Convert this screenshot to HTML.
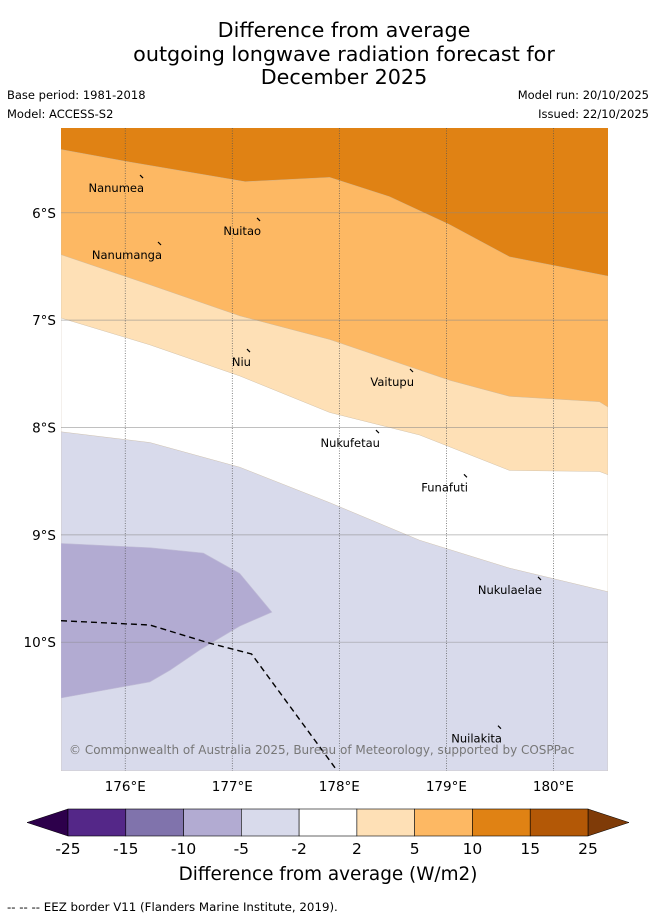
<!DOCTYPE html>
<html><head><meta charset="utf-8"><style>
body{margin:0;background:#fff;width:655px;height:919px;overflow:hidden;font-family:"DejaVu Sans","Liberation Sans",sans-serif}
svg text{font-family:"DejaVu Sans","Liberation Sans",sans-serif}
</style></head><body>
<svg id="chart" width="655" height="919" xmlns="http://www.w3.org/2000/svg">
<g font-size="20.7" text-anchor="middle" fill="#000">
<text x="344" y="37">Difference from average</text>
<text x="344" y="61">outgoing longwave radiation forecast for</text>
<text x="344" y="84">December 2025</text>
</g>
<g font-size="11.5" fill="#000">
<text x="7" y="99">Base period: 1981-2018</text>
<text x="7" y="118">Model: ACCESS-S2</text>
<text x="649" y="99" text-anchor="end">Model run: 20/10/2025</text>
<text x="649" y="118" text-anchor="end">Issued: 22/10/2025</text>
</g>
<defs><clipPath id="mapclip"><rect x="61" y="128" width="547" height="643"/></clipPath></defs>
<g id="map" clip-path="url(#mapclip)"></g>
<g id="overlay"></g>
<g id="cbar"></g>
<text x="328" y="880" font-size="18.4" text-anchor="middle">Difference from average (W/m2)</text>
<text x="7" y="911" font-size="11.8">--  --  -- EEZ border V11 (Flanders Marine Institute, 2019).</text>
</svg>
<script>
// Map extents (degrees)
const lonRange=[175.40,180.51], latRange=[5.21,11.20];
// Contour boundaries: lon / lat (deg S)
const b10Lon=[175.40,176.00,177.12,177.91,178.47,179.03,179.59,180.51];
const b10Lat=[5.41,5.52,5.71,5.67,5.85,6.11,6.41,6.59];
const b5Lon=[175.40,176.23,177.07,177.91,179.03,179.59,180.43,180.51];
const b5Lat=[6.39,6.67,6.96,7.18,7.56,7.71,7.76,7.81];
const b2Lon=[175.40,176.23,177.07,177.91,178.75,179.59,180.43,180.51];
const b2Lat=[6.98,7.23,7.52,7.86,8.07,8.40,8.41,8.44];
const bm2Lon=[175.40,176.23,177.07,177.91,178.75,179.59,180.51];
const bm2Lat=[8.04,8.14,8.37,8.70,9.05,9.31,9.53];
const blobLon=[175.40,176.23,176.73,177.07,177.37,177.07,176.70,176.42,176.23,175.40];
const blobLat=[9.08,9.12,9.17,9.36,9.72,9.85,10.07,10.26,10.37,10.52];
const eezLon=[175.40,176.23,176.79,177.18,177.96];
const eezLat=[9.80,9.84,10.01,10.11,11.17];
const lonTicks=[176,177,178,179,180];
const latTicks=[6,7,8,9,10];
const places=["Nanumea","Nuitao","Nanumanga","Niu","Vaitupu","Nukufetau","Funafuti","Nukulaelae","Nuilakita"];
const placeLon=[176.157,177.25,176.325,177.156,178.679,178.361,179.183,179.875,179.501];
const placeLat=[5.676,6.076,6.30,7.297,7.483,8.052,8.464,9.420,10.806];
const cbLevels=["-25","-15","-10","-5","-2","2","5","10","15","25"];
const cbColors=["#542788","#8073ac","#b2abd2","#d8daeb","#ffffff","#fee0b6","#fdb863","#e08214","#b35806"];

const NS="http://www.w3.org/2000/svg";
const X0=61,X1=608,Y0=128,Y1=771;
const x=lon=>X0+(lon-lonRange[0])/(lonRange[1]-lonRange[0])*(X1-X0);
const y=lat=>Y0+(lat-latRange[0])/(latRange[1]-latRange[0])*(Y1-Y0);
function mk(tag,attrs,parent){const e=document.createElementNS(NS,tag);for(const k in attrs)e.setAttribute(k,attrs[k]);parent.appendChild(e);return e;}
const map=document.getElementById('map'),ov=document.getElementById('overlay'),cb=document.getElementById('cbar');
function pts(lons,lats){return lons.map((l,i)=>x(l)+','+y(lats[i])).join(' ');}
function band(lons,lats){return pts(lons,lats)+' '+x(lonRange[1])+','+y(latRange[1])+' '+x(lonRange[0])+','+y(latRange[1]);}
let r=mk('rect',{x:X0,y:Y0,width:X1-X0,height:Y1-Y0,fill:'#e08214'},map);


const bands=[[b10Lon,b10Lat,'#fdb863','region-5-10'],[b5Lon,b5Lat,'#fee0b6','region-2-5'],[b2Lon,b2Lat,'#ffffff','region-neutral'],[bm2Lon,bm2Lat,'#d8daeb','region-minus5-minus2']];
bands.forEach(b=>{const p=mk('polygon',{points:band(b[0],b[1]),fill:b[2],stroke:'#c8b8a0','stroke-width':0.4},map);

});
let bl=mk('polygon',{points:pts(blobLon,blobLat),fill:'#b2abd2',stroke:'#c0bcd6','stroke-width':0.6},map);


// gridlines
lonTicks.forEach(l=>{const g=mk('line',{x1:x(l),x2:x(l),y1:Y0,y2:Y1,stroke:'#555','stroke-width':0.7,'stroke-dasharray':'1,1.5'},map);


const t=mk('text',{x:x(l),y:791,'font-size':13.5,'text-anchor':'middle'},ov);t.textContent=l+'°E';

});
latTicks.forEach(l=>{const g=mk('line',{x1:X0,x2:X1,y1:y(l),y2:y(l),stroke:'#888','stroke-width':0.7,'stroke-opacity':0.7},map);


const t=mk('text',{x:56,y:y(l)+5,'font-size':13.5,'text-anchor':'end'},ov);t.textContent=l+'°S';

});
let ez=mk('polyline',{points:pts(eezLon,eezLat),fill:'none',stroke:'#000','stroke-width':1.4,'stroke-dasharray':'6,4'},map);


places.forEach((n,i)=>{const px=x(placeLon[i]),py=y(placeLat[i]);
const d=mk('path',{d:`M${px-2},${py-3} l3,3`,stroke:'#000','stroke-width':1.2},map);


const t=mk('text',{x:px+2,y:py+14,'font-size':11.5,'text-anchor':'end'},map);t.textContent=n;

});
let cp=mk('text',{x:69,y:754,'font-size':12,fill:'#777'},map);cp.textContent='© Commonwealth of Australia 2025, Bureau of Meteorology, supported by COSPPac';


// colorbar
const cx0=68,cx1=588,cy=809,ch=27,cw=(cx1-cx0)/cbColors.length;
let lt=mk('polygon',{points:`${cx0},${cy} ${cx0},${cy+ch} 27,${cy+ch/2}`,fill:'#2d004b',stroke:'#000','stroke-width':0.5},cb);


let rt=mk('polygon',{points:`${cx1},${cy} ${cx1},${cy+ch} 629,${cy+ch/2}`,fill:'#7f3b08',stroke:'#000','stroke-width':0.5},cb);


cbColors.forEach((c,i)=>{const s=mk('rect',{x:cx0+i*cw,y:cy,width:cw,height:ch,fill:c,stroke:'#000','stroke-width':0.6},cb);

});
cbLevels.forEach((v,i)=>{const t=mk('text',{x:cx0+i*cw,y:854,'font-size':15.5,'text-anchor':'middle'},cb);t.textContent=v;

});
</script>
</body></html>
